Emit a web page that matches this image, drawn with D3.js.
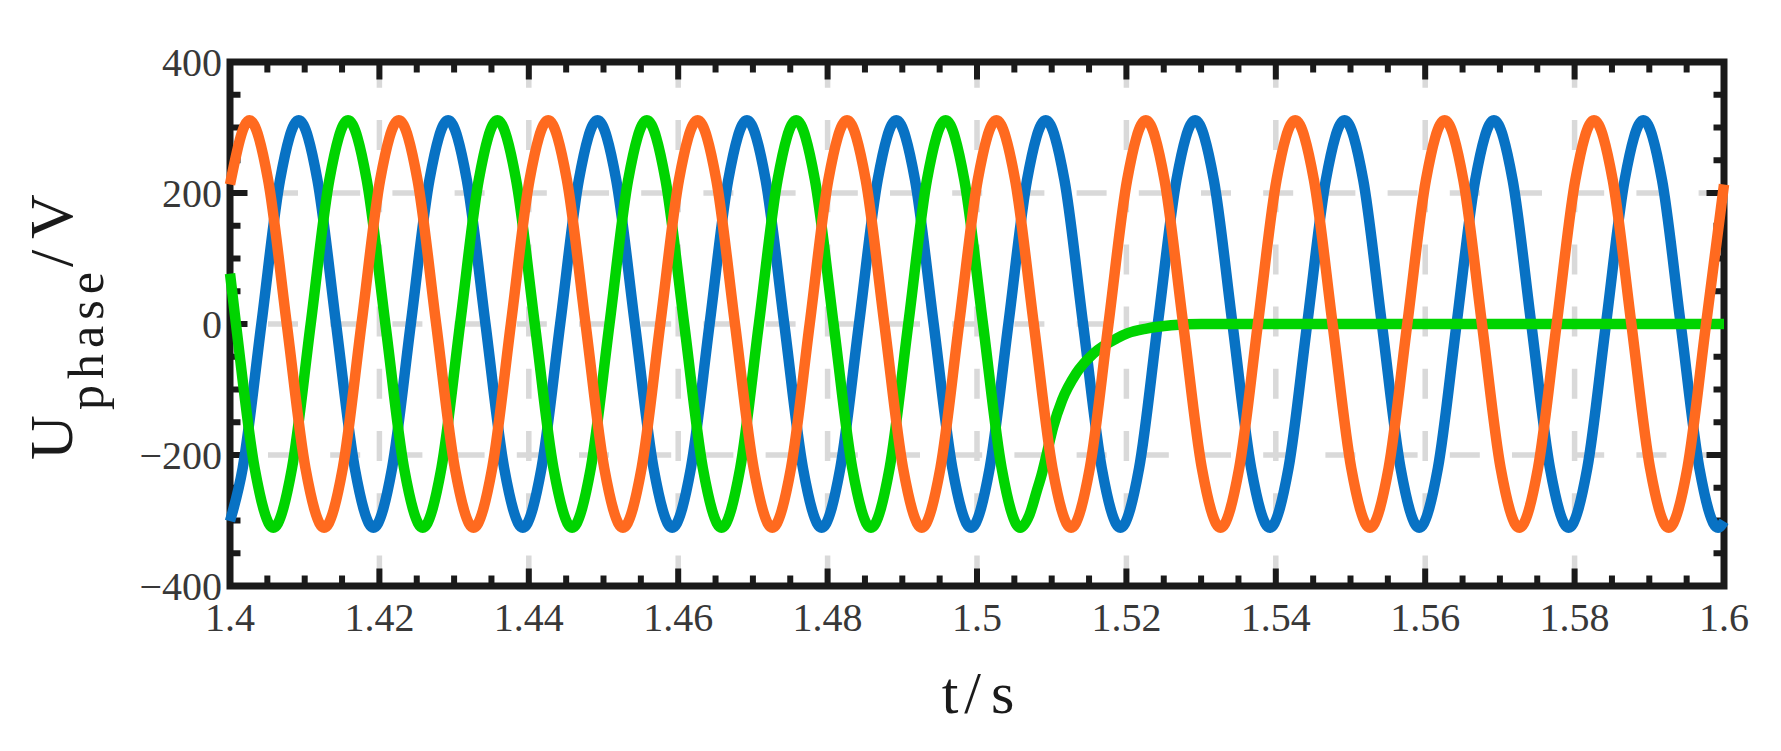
<!DOCTYPE html>
<html><head><meta charset="utf-8">
<script src="https://cdn.jsdelivr.net/npm/d3@7"></script>
<style>html,body{margin:0;padding:0;background:#fff;}svg{display:block;}</style>
</head><body>
<script>
// ---- data (t in s, U in V) ----
const xTickValues = [1.4, 1.42, 1.44, 1.46, 1.48, 1.5, 1.52, 1.54, 1.56, 1.58, 1.6];
const xTickLabels = ["1.4", "1.42", "1.44", "1.46", "1.48", "1.5", "1.52", "1.54", "1.56", "1.58", "1.6"];
const yTickValues = [-400, -200, 0, 200, 400];
const yTickLabels = ["\u2212400", "\u2212200", "0", "200", "400"];

const blueT = [1.4,
 1.4017, 1.4042, 1.4067, 1.4092, 1.4117, 1.4142, 1.4167, 1.4192,
 1.4217, 1.4242, 1.4267, 1.4292, 1.4317, 1.4342, 1.4367, 1.4392,
 1.4417, 1.4442, 1.4467, 1.4492, 1.4517, 1.4542, 1.4567, 1.4592,
 1.4617, 1.4642, 1.4667, 1.4692, 1.4717, 1.4742, 1.4767, 1.4792,
 1.4817, 1.4842, 1.4867, 1.4892, 1.4917, 1.4942, 1.4967, 1.4992,
 1.5017, 1.5042, 1.5067, 1.5092, 1.5117, 1.5142, 1.5167, 1.5192,
 1.5217, 1.5242, 1.5267, 1.5292, 1.5317, 1.5342, 1.5367, 1.5392,
 1.5417, 1.5442, 1.5467, 1.5492, 1.5517, 1.5542, 1.5567, 1.5592,
 1.5617, 1.5642, 1.5667, 1.5692, 1.5717, 1.5742, 1.5767, 1.5792,
 1.5817, 1.5842, 1.5867, 1.5892, 1.5917, 1.5942, 1.5967, 1.5992,
 1.6];
const blueV = [-301,
 -220, 0, 220, 311, 220, 0, -220, -311,
 -220, 0, 220, 311, 220, 0, -220, -311,
 -220, 0, 220, 311, 220, 0, -220, -311,
 -220, 0, 220, 311, 220, 0, -220, -311,
 -220, 0, 220, 311, 220, 0, -220, -311,
 -220, 0, 220, 311, 220, 0, -220, -311,
 -220, 0, 220, 311, 220, 0, -220, -311,
 -220, 0, 220, 311, 220, 0, -220, -311,
 -220, 0, 220, 311, 220, 0, -220, -311,
 -220, 0, 220, 311, 220, 0, -220, -311,
 -301];

const greenT = [1.4,
 1.4008, 1.4033, 1.4058, 1.4083, 1.4108, 1.4133, 1.4158, 1.4183,
 1.4208, 1.4233, 1.4258, 1.4283, 1.4308, 1.4333, 1.4358, 1.4383,
 1.4408, 1.4433, 1.4458, 1.4483, 1.4508, 1.4533, 1.4558, 1.4583,
 1.4608, 1.4633, 1.4658, 1.4683, 1.4708, 1.4733, 1.4758, 1.4783,
 1.4808, 1.4833, 1.4858, 1.4883, 1.4908, 1.4933, 1.4958, 1.4983,
 1.5008, 1.5033, 1.5058, 1.5070, 1.5080, 1.5087, 1.5093, 1.5102, 1.5114, 1.5133,
 1.5156, 1.5187, 1.5202, 1.5227, 1.5260, 1.5300, 1.5400, 1.5600, 1.5800, 1.6];
const greenV = [77,
 0, -220, -311, -220, 0, 220, 311, 220,
 0, -220, -311, -220, 0, 220, 311, 220,
 0, -220, -311, -220, 0, 220, 311, 220,
 0, -220, -311, -220, 0, 220, 311, 220,
 0, -220, -311, -220, 0, 220, 311, 220,
 0, -220, -311, -292, -255, -228, -200, -157, -116, -75,
 -45, -22, -14, -7, -2, 0, 0, 0, 0, 0];

const orangeT = [1.4,
 1.4026, 1.4051, 1.4076, 1.4101, 1.4126, 1.4151, 1.4176, 1.4201,
 1.4226, 1.4251, 1.4276, 1.4301, 1.4326, 1.4351, 1.4376, 1.4401,
 1.4426, 1.4451, 1.4476, 1.4501, 1.4526, 1.4551, 1.4576, 1.4601,
 1.4626, 1.4651, 1.4676, 1.4701, 1.4726, 1.4751, 1.4776, 1.4801,
 1.4826, 1.4851, 1.4876, 1.4901, 1.4926, 1.4951, 1.4976, 1.5001,
 1.5026, 1.5051, 1.5076, 1.5101, 1.5126, 1.5151, 1.5176, 1.5201,
 1.5226, 1.5251, 1.5276, 1.5301, 1.5326, 1.5351, 1.5376, 1.5401,
 1.5426, 1.5451, 1.5476, 1.5501, 1.5526, 1.5551, 1.5576, 1.5601,
 1.5626, 1.5651, 1.5676, 1.5701, 1.5726, 1.5751, 1.5776, 1.5801,
 1.5826, 1.5851, 1.5876, 1.5901, 1.5926, 1.5951, 1.5976, 1.6];
const orangeV = [213,
 311, 220, 0, -220, -311, -220, 0, 220,
 311, 220, 0, -220, -311, -220, 0, 220,
 311, 220, 0, -220, -311, -220, 0, 220,
 311, 220, 0, -220, -311, -220, 0, 220,
 311, 220, 0, -220, -311, -220, 0, 220,
 311, 220, 0, -220, -311, -220, 0, 220,
 311, 220, 0, -220, -311, -220, 0, 220,
 311, 220, 0, -220, -311, -220, 0, 220,
 311, 220, 0, -220, -311, -220, 0, 220,
 311, 220, 0, -220, -311, -220, 0, 213];

const seriesNames = ["blue", "green", "orange"];
const seriesColors = ["#0872c4", "#00d400", "#ff6a1f"];

// ---- drawing ----
const W = 1781, H = 751;
const svg = d3.select("body").append("svg").attr("width", W).attr("height", H)
  .style("background", "#fff");

const x = d3.scaleLinear().domain([1.4, 1.6]).range([230, 1724]);
const y = d3.scaleLinear().domain([-400, 400]).range([586, 62]);

const FONT = "'Liberation Serif', 'DejaVu Serif', serif";
const INK = "#1a1a1a";

// grid
const gridColor = "#d9d9d9";
svg.append("g").selectAll("line")
  .data(xTickValues.slice(1, -1)).join("line")
  .attr("x1", d => x(d)).attr("x2", d => x(d))
  .attr("y1", y(400)).attr("y2", y(-400))
  .attr("stroke", gridColor).attr("stroke-width", 5.5)
  .attr("stroke-dasharray", "30 32.2").attr("stroke-dashoffset", 4.2);
svg.append("g").selectAll("line")
  .data(yTickValues.slice(1, -1)).join("line")
  .attr("x1", x(1.4)).attr("x2", x(1.6))
  .attr("y1", d => y(d)).attr("y2", d => y(d))
  .attr("stroke", gridColor).attr("stroke-width", 5.5)
  .attr("stroke-dasharray", "30 32.2").attr("stroke-dashoffset", 24.2);

// frame
svg.append("rect")
  .attr("x", x(1.4)).attr("y", y(400))
  .attr("width", x(1.6) - x(1.4)).attr("height", y(-400) - y(400))
  .attr("fill", "none").attr("stroke", INK).attr("stroke-width", 7);

// ticks
const MAJ = 17.5, MIN = 10.5, TW = 6;
const near = (a, b) => Math.abs(a - b) < 1e-9;
const xMajor = xTickValues.slice(1, -1);
const xMinor = x.ticks(40).filter(v => !xTickValues.some(m => near(m, v)));
const yMajor = yTickValues.slice(1, -1);
const yMinor = y.ticks(16).filter(v => !yTickValues.some(m => near(m, v)));
const tg = svg.append("g").attr("stroke", INK).attr("stroke-width", TW);
function xt(vals, len) {
  tg.append("g").selectAll("line").data(vals).join("line")
    .attr("x1", d => x(d)).attr("x2", d => x(d))
    .attr("y1", y(-400)).attr("y2", y(-400) - len);
  tg.append("g").selectAll("line").data(vals).join("line")
    .attr("x1", d => x(d)).attr("x2", d => x(d))
    .attr("y1", y(400)).attr("y2", y(400) + len);
}
function yt(vals, len) {
  tg.append("g").selectAll("line").data(vals).join("line")
    .attr("y1", d => y(d)).attr("y2", d => y(d))
    .attr("x1", x(1.4)).attr("x2", x(1.4) + len);
  tg.append("g").selectAll("line").data(vals).join("line")
    .attr("y1", d => y(d)).attr("y2", d => y(d))
    .attr("x1", x(1.6)).attr("x2", x(1.6) - len);
}
xt(xMajor, MAJ); xt(xMinor, MIN); yt(yMajor, MAJ); yt(yMinor, MIN);

// tick labels
svg.append("g").selectAll("text").data(xTickValues).join("text")
  .attr("x", d => x(d)).attr("y", 631)
  .attr("text-anchor", "middle")
  .attr("font-family", FONT).attr("font-size", 40).attr("fill", "#383838")
  .text((d, i) => xTickLabels[i]);
svg.append("g").selectAll("text").data(yTickValues).join("text")
  .attr("x", 222).attr("y", d => y(d) + 13.5)
  .attr("text-anchor", "end")
  .attr("font-family", FONT).attr("font-size", 40).attr("fill", "#383838")
  .text((d, i) => yTickLabels[i]);

// axis titles
const xt_ = svg.append("text").attr("x", 978).attr("y", 713)
  .attr("text-anchor", "middle").attr("font-family", FONT)
  .attr("font-size", 60).attr("fill", INK);
xt_.append("tspan").text("t");
xt_.append("tspan").attr("dx", 6).text("/");
xt_.append("tspan").attr("dx", 10).text("s");

const yl = svg.append("g").attr("transform", "translate(72,460) rotate(-90)")
  .attr("font-family", FONT).attr("fill", INK);
yl.append("text").attr("x", 0).attr("y", 0).attr("font-size", 62).text("U");
yl.append("text").attr("x", 50).attr("y", 31).attr("font-size", 50)
  .attr("textLength", 138).attr("lengthAdjust", "spacing").text("phase");
yl.append("text").attr("x", 193).attr("y", 0).attr("font-size", 62).text("/");
yl.append("text").attr("x", 221).attr("y", 0).attr("font-size", 62).text("V");

// curves (drawn last, on top of frame as in the reference)
const line = d3.line().x(d => x(d[0])).y(d => y(d[1])).curve(d3.curveMonotoneX);
const series = [
  d3.zip(blueT, blueV),
  d3.zip(greenT, greenV),
  d3.zip(orangeT, orangeV)
];
svg.append("g").selectAll("path").data(series).join("path")
  .attr("d", d => line(d))
  .attr("fill", "none")
  .attr("stroke", (d, i) => seriesColors[i])
  .attr("stroke-width", 10.5)
  .attr("stroke-linecap", "butt")
  .attr("stroke-linejoin", "round")
  .attr("data-name", (d, i) => seriesNames[i]);
</script>
</body></html>
